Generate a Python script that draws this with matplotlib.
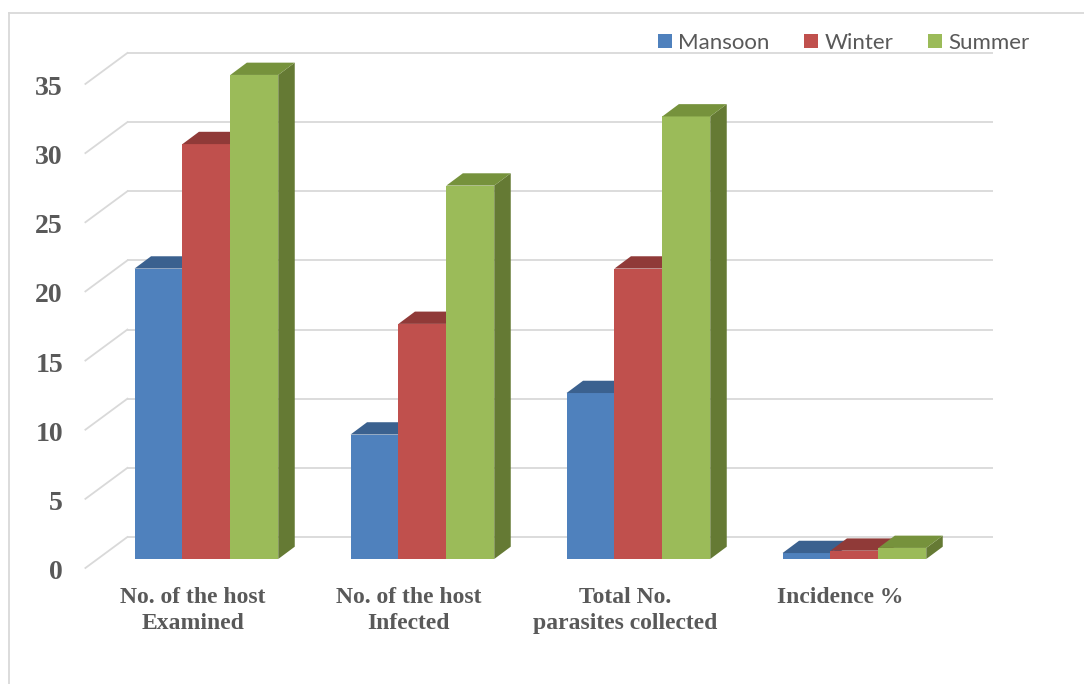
import matplotlib
matplotlib.use("Agg")
import matplotlib.pyplot as plt
from matplotlib.patches import Polygon
from matplotlib.lines import Line2D

# ---- data ----
categories = ["No. of the host\nExamined", "No. of the host\nInfected",
              "Total No.\nparasites collected", "Incidence %"]
series_names = ["Mansoon", "Winter", "Summer"]
mansoon = [21, 9, 12, 0.43]
winter = [30, 17, 21, 0.6]
summer = [35, 27, 32, 0.8]
y_ticks = [0, 5, 10, 15, 20, 25, 30, 35]

# ---- styles ----
front_colors = ["#4F81BD", "#C0504D", "#9BBB59"]
top_colors = ["#3B618F", "#903A38", "#76923C"]
side_colors = ["#3A5E8A", "#883634", "#657A34"]
text_color = "#595959"
grid_color = "#D9D9D9"

W, H = 1084, 684
XC0, GS = 206.4, 216.0    # pixel of first group centre, pixels per group
Y0, YS = 559.0, 13.83     # pixel of value 0 (bar front plane), pixels per unit

def dxp(px):
    return px / GS

def dyp(px):
    return px / YS

def xdata(px):
    return (px - XC0) / GS

fig = plt.figure(figsize=(W / 100, H / 100), dpi=100)
ax = fig.add_axes([0, 0, 1, 1])
ax.set_xlim(xdata(0), xdata(W))
ax.set_ylim((Y0 - H) / YS, Y0 / YS)
ax.axis("off")

# ---- chart frame ----
fig.add_artist(Line2D([9 / W, 9 / W], [0, 1 - 13 / H], color=grid_color, lw=1.3))
fig.add_artist(Line2D([9 / W, 1], [1 - 13 / H, 1 - 13 / H], color=grid_color, lw=1.3))

# ---- back wall gridlines and side wall diagonals ----
back_left, back_right, front_left = xdata(127.4), xdata(992.8), xdata(85.4)
back_off, front_off = dyp(22), dyp(9)
for v in y_ticks:
    ax.plot([back_left, back_right], [v + back_off, v + back_off],
            color=grid_color, lw=1.3, zorder=1, solid_capstyle="butt")
    ax.plot([front_left, back_left], [v - front_off, v + back_off],
            color=grid_color, lw=1.3, zorder=1)
    ax.text(xdata(63), v - front_off - dyp(4.5), f"{v}", ha="right", va="center",
            fontsize=20, fontweight="bold", family="Liberation Serif",
            color=text_color)

# ---- 3D-looking bars ----
bw = dxp(47.9)
ddx, ddy = dxp(16.5), dyp(12.3)
series = [mansoon, winter, summer]
handles = []
for j, vals in enumerate(series):
    lefts = [i - 1.5 * bw + j * bw for i in range(len(categories))]
    bars = ax.bar(lefts, vals, width=bw, align="edge", color=front_colors[j],
                  linewidth=0, zorder=3 + j, label=series_names[j])
    handles.append(bars)
    for x0, v in zip(lefts, vals):
        x1 = x0 + bw
        top = Polygon([(x0, v), (x0 + ddx, v + ddy), (x1 + ddx, v + ddy), (x1, v)],
                      closed=True, facecolor=top_colors[j], edgecolor="none",
                      zorder=3 + j)
        side = Polygon([(x1, 0), (x1 + ddx, ddy), (x1 + ddx, v + ddy), (x1, v)],
                       closed=True, facecolor=side_colors[j], edgecolor="none",
                       zorder=3 + j)
        ax.add_patch(side)
        ax.add_patch(top)

# ---- category labels ----
for i, lab in enumerate(categories):
    ax.text(i - dxp(13.7), -dyp(28), lab, ha="center", va="top",
            fontsize=17, fontweight="bold", family="Liberation Serif",
            color=text_color, linespacing=1.32)

# ---- legend ----
leg = ax.legend(handles=handles, labels=series_names, ncol=3, frameon=False,
                loc="center left", bbox_to_anchor=(658 / W, 1 - 43 / H),
                bbox_transform=fig.transFigure,
                prop={"family": "Lato", "size": 16},
                handlelength=0.62, handleheight=0.62, handletextpad=0.3,
                columnspacing=1.55, borderpad=0, borderaxespad=0)
for t in leg.get_texts():
    t.set_color(text_color)

fig.savefig("out.png", dpi=100)
